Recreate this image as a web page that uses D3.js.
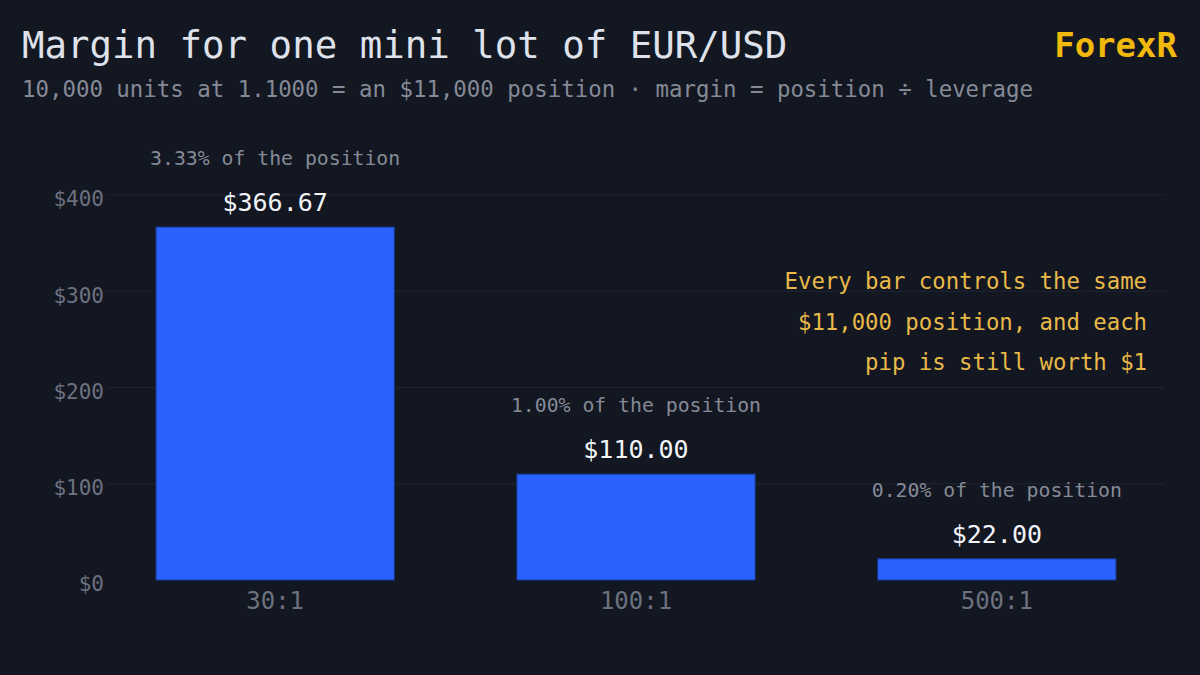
<!DOCTYPE html>
<html>
<head>
<meta charset="utf-8">
<script src="https://cdn.jsdelivr.net/npm/d3@7"></script>
<style>
  body { margin: 0; background: #131722; }
  svg { display: block; }
</style>
</head>
<body>
<div id="chart"></div>
<script>
// leverage categories and margin in dollars
var leverage = ["30:1", "100:1", "500:1"];
var margin_usd = [366.67, 110.00, 22.00];
var pct_of_position = ["3.33%", "1.00%", "0.20%"];
var y_ticks = [0, 100, 200, 300, 400];
var note_lines = ["Every bar controls the same", "$11,000 position, and each", "pip is still worth $1"];

function main() {
    var W = 1200, H = 675;
    var mono = "'DejaVu Sans Mono', 'Liberation Mono', monospace";

    var svg = d3.select("#chart").append("svg")
        .attr("width", W)
        .attr("height", H);

    svg.append("rect")
        .attr("width", W).attr("height", H)
        .attr("fill", "#131722");

    // title + subtitle
    svg.append("text")
        .attr("x", 22).attr("y", 58)
        .attr("font-family", mono)
        .attr("font-size", "37.4px")
        .attr("fill", "#dfe2ea")
        .text("Margin for one mini lot of EUR/USD");

    svg.append("text")
        .attr("x", 22).attr("y", 97)
        .attr("font-family", mono)
        .attr("font-size", "22.4px")
        .attr("fill", "#858a96")
        .text("10,000 units at 1.1000 = an $11,000 position · margin = position ÷ leverage");

    svg.append("text")
        .attr("x", 1177).attr("y", 57)
        .attr("text-anchor", "end")
        .attr("font-family", mono)
        .attr("font-size", "34px")
        .attr("font-weight", "bold")
        .attr("fill", "#f0b90b")
        .text("ForexR");

    var data = leverage.map(function (d, i) {
        return {lev: d, value: margin_usd[i], pct: pct_of_position[i]};
    });

    var x = d3.scaleBand()
        .domain(leverage)
        .range([107, 1165])
        .paddingInner(0.34)
        .paddingOuter(0.136);

    var y = d3.scaleLinear()
        .domain([0, 400])
        .range([580, 195]);

    // gridlines
    svg.append("g")
        .selectAll("line")
        .data(y_ticks.filter(function (t) { return t > 0; }))
        .join("line")
        .attr("x1", 107).attr("x2", 1165)
        .attr("y1", function (d) { return y(d); })
        .attr("y2", function (d) { return y(d); })
        .attr("stroke", "#1f2431")
        .attr("stroke-width", 1);

    // y axis
    var yAxis = svg.append("g")
        .attr("transform", "translate(107,0)")
        .call(d3.axisLeft(y).tickValues(y_ticks).tickSize(0).tickPadding(3)
            .tickFormat(function (d) { return "$" + d; }));
    yAxis.select(".domain").remove();
    yAxis.selectAll("text")
        .attr("dy", "0.52em")
        .attr("font-family", mono)
        .attr("font-size", "21px")
        .attr("fill", "#6c717e");

    // x axis
    var xAxis = svg.append("g")
        .attr("transform", "translate(0,580)")
        .call(d3.axisBottom(x).tickSize(0).tickPadding(12));
    xAxis.select(".domain").remove();
    xAxis.selectAll("text")
        .attr("font-family", mono)
        .attr("font-size", "24px")
        .attr("fill", "#6c717e");

    // bars
    svg.append("g")
        .selectAll("rect")
        .data(data)
        .join("rect")
        .attr("x", function (d) { return x(d.lev); })
        .attr("width", x.bandwidth())
        .attr("y", function (d) { return y(d.value); })
        .attr("height", function (d) { return y(0) - y(d.value); })
        .attr("fill", "#2962ff")
        .attr("stroke", "#1b3d9c")
        .attr("stroke-width", 1);

    // value labels
    svg.append("g")
        .selectAll("text")
        .data(data)
        .join("text")
        .attr("x", function (d) { return x(d.lev) + x.bandwidth() / 2; })
        .attr("y", function (d) { return y(d.value) - 16; })
        .attr("text-anchor", "middle")
        .attr("font-family", mono)
        .attr("font-size", "25px")
        .attr("fill", "#f2f4f8")
        .text(function (d) { return "$" + d3.format(".2f")(d.value); });

    // percent-of-position labels
    svg.append("g")
        .selectAll("text")
        .data(data)
        .join("text")
        .attr("x", function (d) { return x(d.lev) + x.bandwidth() / 2; })
        .attr("y", function (d) { return y(d.value) - 62; })
        .attr("text-anchor", "middle")
        .attr("font-family", mono)
        .attr("font-size", "19.8px")
        .attr("fill", "#858a96")
        .text(function (d) { return d.pct + " of the position"; });

    // annotation
    svg.append("g")
        .selectAll("text")
        .data(note_lines)
        .join("text")
        .attr("x", 1147)
        .attr("y", function (d, i) { return 289 + i * 40.5; })
        .attr("text-anchor", "end")
        .attr("font-family", mono)
        .attr("font-size", "22.3px")
        .attr("fill", "#e9b949")
        .text(function (d) { return d; });
}

main()
</script>
</body>
</html>
